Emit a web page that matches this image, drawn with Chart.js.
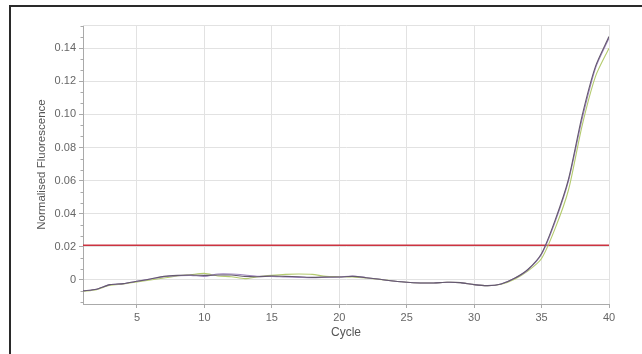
<!DOCTYPE html>
<html>
<head>
<meta charset="utf-8">
<script src="https://cdn.jsdelivr.net/npm/chart.js@4/dist/chart.umd.min.js"></script>
<style>
  html, body { margin: 0; padding: 0; background: #fff; }
  canvas { display: block; }
</style>
</head>
<body>
<canvas id="c" width="642" height="354"></canvas>
<script>
// Amplification run: normalised fluorescence per cycle for three samples
const cycles = [1,2,3,4,5,6,7,8,9,10,11,12,13,14,15,16,17,18,19,20,21,22,23,24,25,26,27,28,29,30,31,32,33,34,35,36,37,38,39,40];

const sampleDark = [
  -0.0066,-0.0056,-0.0028,-0.0022,-0.0008,0.0006,0.0022,0.0028,0.0030,0.0028,
  0.0030,0.0030,0.0022,0.0020,0.0024,0.0022,0.0020,0.0016,0.0018,0.0018,
  0.0022,0.0014,0.0004,-0.0006,-0.0014,-0.0018,-0.0018,-0.0014,-0.0016,-0.0028,
  -0.0034,-0.0024,0.0010,0.0065,0.0160,0.0360,0.0610,0.0990,0.1290,0.1470
];
const samplePurple = [
  -0.0066,-0.0056,-0.0028,-0.0022,-0.0008,0.0006,0.0020,0.0026,0.0028,0.0022,
  0.0036,0.0036,0.0030,0.0022,0.0022,0.0018,0.0016,0.0014,0.0016,0.0018,
  0.0024,0.0014,0.0004,-0.0006,-0.0014,-0.0018,-0.0018,-0.0014,-0.0016,-0.0028,
  -0.0034,-0.0024,0.0010,0.0062,0.0155,0.0350,0.0600,0.0970,0.1280,0.1460
];
const sampleGreen = [
  -0.0068,-0.0058,-0.0032,-0.0024,-0.0012,0.0000,0.0012,0.0024,0.0032,0.0040,
  0.0024,0.0020,0.0008,0.0020,0.0028,0.0034,0.0036,0.0034,0.0022,0.0020,
  0.0018,0.0012,0.0004,-0.0006,-0.0014,-0.0018,-0.0018,-0.0014,-0.0016,-0.0028,
  -0.0034,-0.0026,0.0005,0.0055,0.0130,0.0310,0.0545,0.0930,0.1230,0.1400
];
const thresholdLevel = 0.021;

const toPoints = arr => cycles.map((c, i) => ({ x: c, y: arr[i] }));
const thresholdPoints = [
  { x: cycles[0], y: thresholdLevel },
  { x: cycles[cycles.length - 1], y: thresholdLevel }
];

const FONT = "'Liberation Sans', Arial, sans-serif";

// Outer frame, plot box and minor y ticks
const decorations = {
  id: 'decorations',
  beforeDraw(chart) {
    const ctx = chart.ctx;
    ctx.save();
    ctx.fillStyle = '#fff';
    ctx.fillRect(0, 0, chart.width, chart.height);
    ctx.strokeStyle = '#2a2a2a';
    ctx.lineWidth = 2;
    ctx.strokeRect(10, 6, 700, 400);
    ctx.restore();
  },
  afterDraw(chart) {
    const ctx = chart.ctx;
    const a = chart.chartArea;
    const y = chart.scales.y;
    ctx.save();
    ctx.strokeStyle = '#e2e2e2';
    ctx.lineWidth = 1;
    ctx.beginPath();
    ctx.moveTo(a.left, a.top + 0.5);
    ctx.lineTo(a.right + 0.5, a.top + 0.5);
    ctx.lineTo(a.right + 0.5, a.bottom);
    ctx.stroke();
    // minor ticks on the value axis
    ctx.strokeStyle = '#aaa';
    ctx.beginPath();
    const step = 0.02 / 3;
    for (let k = -3; k < 30; k++) {
      const v = k * step;
      if (v < y.min || v > y.max) continue;
      if (k % 3 === 0) continue;
      const py = Math.round(y.getPixelForValue(v)) + 0.5;
      ctx.moveTo(a.left - 2.5, py);
      ctx.lineTo(a.left, py);
    }
    ctx.stroke();
    ctx.restore();
  }
};

const lineStyle = (color) => ({
  borderColor: color,
  backgroundColor: color,
  borderWidth: 1.1,
  pointRadius: 0,
  fill: false,
  tension: 0.25
});

new Chart(document.getElementById('c'), {
  type: 'line',
  data: {
    datasets: [
      Object.assign({ label: 'Sample 1', data: toPoints(sampleDark) }, lineStyle('#65596f')),
      Object.assign({ label: 'Sample 2', data: toPoints(samplePurple) }, lineStyle('#a088c0')),
      Object.assign({ label: 'Sample 3', data: toPoints(sampleGreen) }, lineStyle('#b4cb6e')),
      {
        label: 'Threshold',
        data: thresholdPoints,
        borderColor: '#cc3340',
        borderWidth: 1.5,
        pointRadius: 0,
        fill: false
      }
    ]
  },
  options: {
    responsive: false,
    animation: false,
    events: [],
    layout: { padding: { top: 25, right: 33, left: 0, bottom: 0 } },
    plugins: {
      legend: { display: false },
      tooltip: { enabled: false }
    },
    scales: {
      x: {
        type: 'linear',
        min: 1,
        max: 40,
        afterFit(scale) { scale.height = 50; },
        ticks: {
          stepSize: 5,
          includeBounds: false,
          padding: 3,
          color: '#666',
          font: { family: FONT, size: 11 },
          maxRotation: 0
        },
        grid: {
          color: '#e2e2e2',
          tickColor: '#aaa',
          tickLength: 4
        },
        border: { color: '#aaa' },
        title: {
          display: true,
          text: 'Cycle',
          color: '#555',
          font: { family: FONT, size: 12 },
          padding: { top: 0, bottom: 14 }
        }
      },
      y: {
        type: 'linear',
        min: -0.0145,
        max: 0.154,
        afterFit(scale) { scale.width = 83; },
        ticks: {
          stepSize: 0.02,
          includeBounds: false,
          padding: 3,
          color: '#666',
          font: { family: FONT, size: 11 }
        },
        grid: {
          color: '#e2e2e2',
          tickColor: '#aaa',
          tickLength: 4
        },
        border: { color: '#aaa' },
        title: {
          display: true,
          text: 'Normalised Fluorescence',
          color: '#555',
          font: { family: FONT, size: 11.5 },
          padding: { top: 35, bottom: 0 }
        }
      }
    }
  },
  plugins: [decorations]
});
</script>
</body>
</html>
